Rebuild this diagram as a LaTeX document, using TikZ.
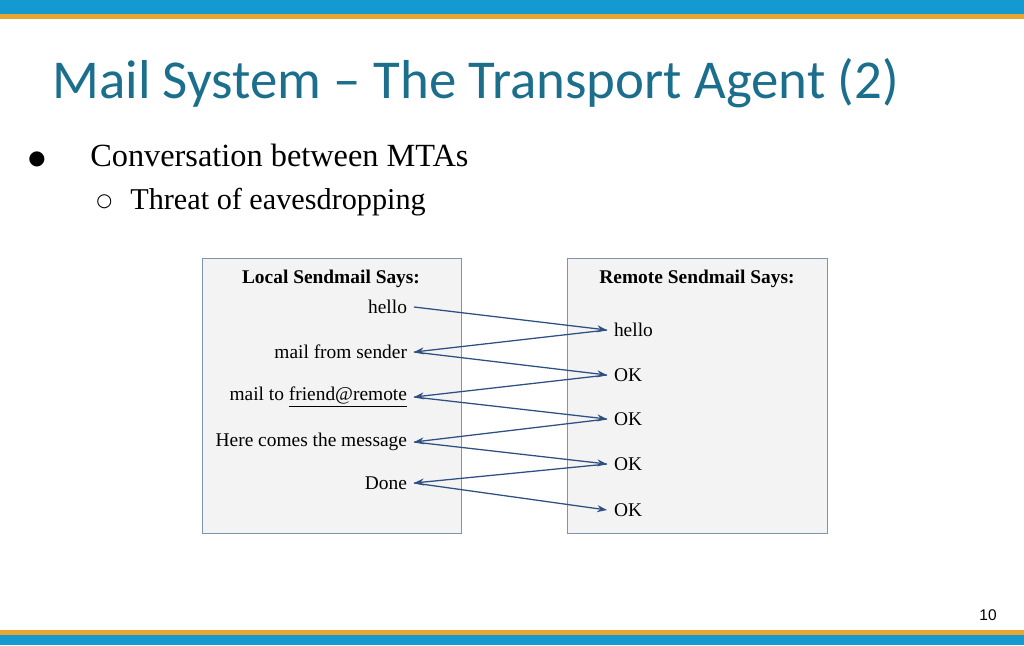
\documentclass[tikz,border=0pt]{standalone}
\usepackage{fontspec}
\setmainfont{Liberation Serif}
\newfontfamily\titlefont{Carlito}
\newfontfamily\numfont{Liberation Sans}
\newfontfamily\symfont{DejaVu Sans}
\usetikzlibrary{arrows.meta}
\definecolor{barblue}{HTML}{1499D0}
\definecolor{barorange}{HTML}{E8A531}
\definecolor{titleteal}{HTML}{1B6E8C}
\definecolor{boxfill}{HTML}{F3F3F3}
\definecolor{boxline}{HTML}{7F93AE}
\definecolor{arrowblue}{HTML}{2E4F82}
\tikzset{
  sendbox/.style={draw=boxline, fill=boxfill, line width=0.6pt},
  leftmsg/.style={anchor=east, font=\fontsize{13.8}{16}\selectfont, inner sep=2pt, outer sep=3pt},
  rightmsg/.style={anchor=west, font=\fontsize{13.8}{16}\selectfont, inner sep=2pt, outer sep=3pt},
  boxhead/.style={font=\fontsize{13.8}{16}\selectfont\bfseries},
  msgarrow/.style={draw=arrowblue, line width=0.9pt, -{Stealth[length=7pt,width=5pt]}}
}
\begin{document}
\begin{tikzpicture}[x=0.025cm, y=-0.025cm]
\useasboundingbox (0,0) rectangle (1024,645);
% bars
\fill[barblue] (0,0) rectangle (1024,14);
\fill[barorange] (0,14) rectangle (1024,19);
\fill[barorange] (0,630) rectangle (1024,635);
\fill[barblue] (0,635) rectangle (1024,645);
% title and bullets
\node[anchor=base west, inner sep=0, text=titleteal, font=\titlefont\fontsize{39}{44}\selectfont] (title) at (52,98) {Mail System – The Transport Agent (2)};
\node[anchor=base west, inner sep=0, font=\symfont\fontsize{14}{16}\selectfont] (dot1) at (28,164) {●};
\node[anchor=base west, inner sep=0, font=\fontsize{23}{26}\selectfont] (b1) at (90,166) {Conversation between MTAs};
\node[anchor=base west, inner sep=0, font=\symfont\fontsize{13}{16}\selectfont] (dot2) at (96,206) {○};
\node[anchor=base west, inner sep=0, font=\fontsize{21.5}{24}\selectfont] (b2) at (130,209) {Threat of eavesdropping};
% boxes
\draw[sendbox] (202,258) rectangle (461,533);
\draw[sendbox] (567,258) rectangle (827,533);
\node[boxhead] (lhead) at (331,279) {Local Sendmail Says:};
\node[boxhead] (rhead) at (697,279) {Remote Sendmail Says:};
% local side
\node[leftmsg] (l1) at (414,307) {hello};
\node[leftmsg] (l2) at (414,352) {mail from sender};
\node[leftmsg] (l3) at (414,397) {mail to \underline{friend@remote}};
\node[leftmsg] (l4) at (414,442) {Here comes the message};
\node[leftmsg] (l5) at (414,483) {Done};
% remote side
\node[rightmsg] (r1) at (607,330) {hello};
\node[rightmsg] (r2) at (607,375) {OK};
\node[rightmsg] (r3) at (607,419) {OK};
\node[rightmsg] (r4) at (607,464) {OK};
\node[rightmsg] (r5) at (607,510) {OK};
% conversation
\draw[msgarrow] (l1.east) -- (r1.west);
\draw[msgarrow] (r1.west) -- (l2.east);
\draw[msgarrow] (l2.east) -- (r2.west);
\draw[msgarrow] (r2.west) -- (l3.east);
\draw[msgarrow] (l3.east) -- (r3.west);
\draw[msgarrow] (r3.west) -- (l4.east);
\draw[msgarrow] (l4.east) -- (r4.west);
\draw[msgarrow] (r4.west) -- (l5.east);
\draw[msgarrow] (l5.east) -- (r5.west);
\node[font=\numfont\fontsize{11}{13}\selectfont] (pagenum) at (988,615) {10};
\end{tikzpicture}
\end{document}
